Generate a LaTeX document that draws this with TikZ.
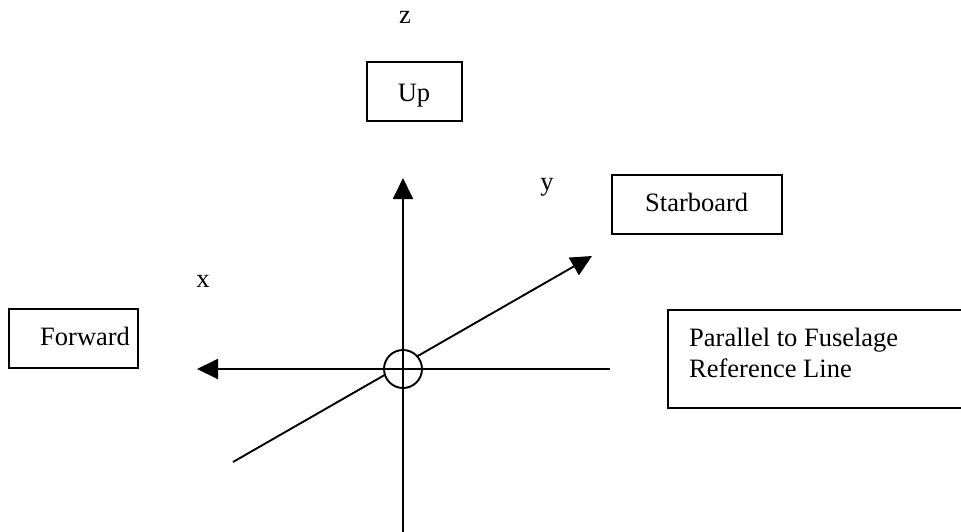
\documentclass[tikz,border=0pt]{standalone}
\usepackage{fontspec}
\setmainfont{Liberation Serif}
\usetikzlibrary{arrows.meta}
\begin{document}
\begin{tikzpicture}[x=1pt,y=-1pt,
  box/.style={draw, line width=1.6pt, inner sep=0pt},
  lbl/.style={anchor=base, inner sep=0pt, font=\fontsize{26.5}{30.7}\selectfont},
  lbll/.style={anchor=base west, inner sep=0pt, font=\fontsize{26.5}{30.7}\selectfont},
  axis/.style={line width=1.9pt},
  arr/.style={axis, -{Triangle[length=21pt,width=20pt]}}]
\clip (0,0) rectangle (961,531);
\fill[white] (0,0) rectangle (961,531);
% boxes
\node[box, minimum width=95pt, minimum height=59pt] (upbox) at (414.5,91.5) {};
\node[box, minimum width=129pt, minimum height=59pt] (fwdbox) at (73.5,338.5) {};
\node[box, minimum width=170pt, minimum height=59pt] (stbbox) at (697,204.5) {};
\node[box, minimum width=340pt, minimum height=98pt] (parbox) at (838,359) {};
% texts
\node[lbl] (uptext) at (414,101) {Up};
\node[lbll] (fwdtext) at (40,345) {Forward};
\node[lbll] (stbtext) at (645,211) {Starboard};
\node[lbll] (partext1) at (689,346.5) {Parallel to Fuselage};
\node[lbll] (partext2) at (689,377) {Reference Line};
\node[lbl] (zlab) at (405,23) {z};
\node[lbl] (xlab) at (203,287) {x};
\node[lbl] (ylab) at (547,190) {y};
% axes
\coordinate (O) at (403,369);
\coordinate (vbot) at (403,540);
\coordinate (vtip) at (403,178);
\coordinate (hright) at (610,369);
\coordinate (htip) at (197,369);
\coordinate (dstart) at (233,462);
\coordinate (dtip) at (592,256);
\draw[arr] (dstart) -- (dtip);
\node[draw, circle, line width=1.9pt, fill=white, minimum size=38pt, inner sep=0pt] (ctr) at (O) {};
\draw[arr] (vbot) -- (vtip);
\draw[arr] (hright) -- (htip);
\end{tikzpicture}
\end{document}
